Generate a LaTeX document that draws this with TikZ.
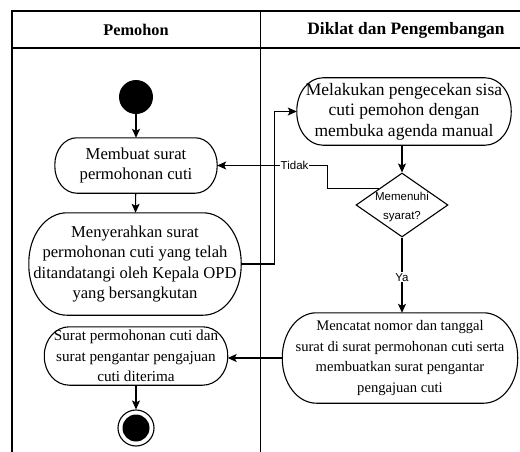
\documentclass[tikz,border=0pt]{standalone}
\usepackage{fontspec}
\setmainfont{Liberation Serif}
\newfontfamily\arialfont{Liberation Sans}
\usetikzlibrary{arrows,arrows.meta,shapes.geometric,calc}

\tikzset{
  act/.style={align=center, inner sep=0pt, font=\fontsize{#1}{20.6}\selectfont},
  flow/.style={line width=1.1pt, -{Stealth[length=9pt,width=8pt,inset=2pt]}},
  lane/.style={line width=1.1pt},
  lanehead/.style={font=\fontsize{#1}{20}\selectfont\bfseries},
  small/.style={font=\arialfont\fontsize{11.5}{19}\selectfont}
}

\begin{document}
\begin{tikzpicture}[x=1pt,y=-1pt]
  \useasboundingbox (0,0) rectangle (520,452);
  % swimlanes
  \draw[lane] (12,452) -- (12,11) -- (520,11);
  \draw[lane] (12,48) -- (520,48);
  \draw[lane] (260.5,11) -- (260.5,452);
  \node[lanehead=16.3] (hpemohon) at (136,30) {Pemohon};
  \node[lanehead=17.4] (hdiklat) at (406,30) {Diklat dan Pengembangan};

  % Pemohon
  \node[circle, fill, minimum size=34pt, inner sep=0pt] (start) at (136,97) {};
  \node[act=16.7, minimum width=162pt, minimum height=55pt] (buat) at (136,165.5) {Membuat surat\\permohonan cuti};
  \node[act=16.6, minimum width=212pt, minimum height=102pt] (serah) at (135,264) {Menyerahkan surat\\permohonan cuti yang telah\\ditandatangi oleh Kepala OPD\\yang bersangkutan};
  \node[act=15.2, minimum width=183pt, minimum height=58pt] (terima) at (136,356) {Surat permohonan cuti dan\\surat pengantar pengajuan\\cuti diterima};
  \node[circle, draw, fill=white, line width=1.1pt, minimum size=36pt, inner sep=0pt] (stop) at (136,428) {};
  \node[circle, fill, minimum size=27pt, inner sep=0pt] (stopdot) at (stop) {};

  % Diklat dan Pengembangan
  \node[act=17.5, minimum width=214pt, minimum height=67pt] (cek) at (404,111.5) {Melakukan pengecekan sisa\\cuti pemohon dengan\\membuka agenda manual};
  \node[diamond, draw, line width=1.1pt, minimum width=92pt, minimum height=64pt, inner sep=0pt,
        label={[small, align=center, yshift=-2.5pt]center:Memenuhi\\syarat?}] (syarat) at (402,205) {};
  \node[act=14.6, minimum width=235pt, minimum height=90pt] (catat) at (400,358) {Mencatat nomor dan tanggal\\surat di surat permohonan cuti serta\\membuatkan surat pengantar\\pengajuan cuti};

  % rounded outlines of the activities
  \foreach \n/\rx/\ry in {buat/22/27, serah/38/50, terima/25/28.5, cek/26/33, catat/34/44.5}
    \draw[line width=1.1pt]
      ($(\n.north west)+(\rx pt,0pt)$) -- ($(\n.north east)+(-\rx pt,0pt)$)
      arc[start angle=90, end angle=0, x radius=\rx pt, y radius=\ry pt]
      -- ($(\n.south east)+(0pt,\ry pt)$)
      arc[start angle=0, end angle=-90, x radius=\rx pt, y radius=\ry pt]
      -- ($(\n.south west)+(\rx pt,0pt)$)
      arc[start angle=270, end angle=180, x radius=\rx pt, y radius=\ry pt]
      -- ($(\n.north west)+(0pt,-\ry pt)$)
      arc[start angle=180, end angle=90, x radius=\rx pt, y radius=\ry pt] -- cycle;

  % alur
  \draw[flow] (start) -- (buat);
  \draw[flow] (buat) -- (serah);
  \draw[flow] (serah.east) -- ++(33,0) |- (cek.west);
  \draw[flow] (cek.south -| syarat.north) -- (syarat.north);
  \draw[flow] (syarat.north west) -- ++(-51,0) |- node[pos=0.65, fill=white, small, inner sep=1pt] (tidak) {Tidak} (buat.east);
  \draw[flow] (syarat.south) -- node[pos=0.53, fill=white, small, inner sep=1pt] (ya) {Ya} (syarat.south |- catat.north);
  \draw[flow] (catat.west) -- (catat.west -| terima.east);
  \draw[flow] (terima) -- (stop);
\end{tikzpicture}
\end{document}
